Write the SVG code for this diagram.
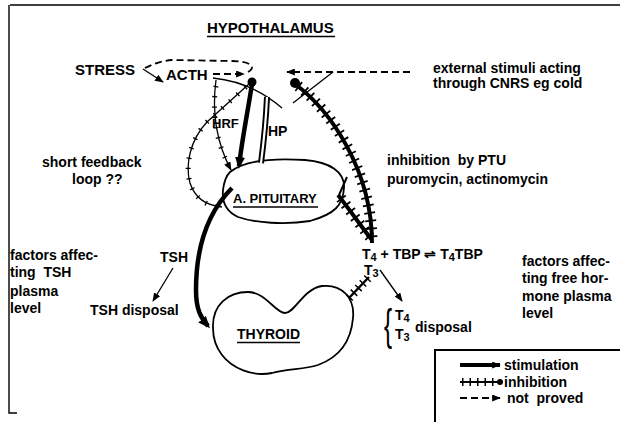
<svg xmlns="http://www.w3.org/2000/svg" width="620" height="422" viewBox="0 0 620 422">
<style>
text{font-family:"Liberation Sans",Arial,sans-serif;font-weight:bold;font-size:14px;fill:#000;white-space:pre}
.cap{font-size:15px}
.sub{font-size:11px}
.ln{fill:none;stroke:#000;stroke-width:1.4}
.thin{fill:none;stroke:#000;stroke-width:1.3}
.thick{fill:none;stroke:#000;stroke-width:4.5}
.dash{fill:none;stroke:#000;stroke-width:1.8;stroke-dasharray:7 4}
.tk{fill:none;stroke:#000;stroke-width:11;stroke-dasharray:1.8 6}
.tks{fill:none;stroke:#000;stroke-width:5;stroke-dasharray:1.3 9}
.outline{fill:#fff;stroke:#000;stroke-width:1.8}
.ul{stroke:#000;stroke-width:1.3}
</style>
<defs>
<marker id="aL" viewBox="0 0 12 10" refX="9" refY="5" markerWidth="12" markerHeight="10" markerUnits="userSpaceOnUse" orient="auto"><path d="M0,0 L12,5 L0,10 z"/></marker>
<marker id="aS" viewBox="0 0 10 8" refX="9" refY="4" markerWidth="9" markerHeight="7" markerUnits="userSpaceOnUse" orient="auto"><path d="M0,0 L10,4 L0,8 z"/></marker>
</defs>

<g id="frame">
<path class="ln" d="M10,5 L620,5 M9,5 L9,413 L17,413"/>
</g>

<g id="hypothalamus">
<text class="cap" x="207" y="33">HYPOTHALAMUS</text>
<line class="ul" x1="207" y1="36.5" x2="335" y2="36.5"/>
<path class="thin" d="M213,78 Q252,82 282,108"/>
<circle cx="252" cy="82" r="4.5"/>
<circle cx="295" cy="83" r="5"/>
</g>

<g id="pituitary">
<path class="outline" d="M230,172 C245,160 275,158 305,160 C330,162 345,172 344,188 C343,205 335,214 310,221 C285,225 255,223 238,217 C225,211 222,200 223,190 C224,182 226,176 230,172 Z"/>
<text x="233" y="203" style="font-size:13px">A. PITUITARY</text>
<line class="ul" x1="233" y1="207" x2="318" y2="207"/>
</g>

<g id="thyroid">
<path class="outline" d="M213,328 C212,305 228,292 248,292 C266,292 275,313 285,313 C295,313 303,289 322,286 C342,284 355,298 353,318 C351,342 340,357 318,365 C302,370 290,368 272,373 C252,377 232,368 222,355 C215,346 213,338 213,328 Z"/>
<text x="237" y="339">THYROID</text>
<line class="ul" x1="237" y1="342.5" x2="300" y2="342.5"/>
</g>

<g id="stress"><text class="cap" x="75" y="75">STRESS</text></g>
<g id="acth"><text class="cap" x="166" y="80">ACTH</text></g>
<g id="hrf"><text x="212" y="128" style="font-size:13px">HRF</text></g>
<g id="hp"><text x="268" y="136">HP</text></g>
<g id="tsh-label"><text x="160" y="262">TSH</text></g>
<g id="tsh-disposal"><text x="90" y="315">TSH disposal</text></g>

<g id="external">
<text x="433" y="73">external stimuli acting</text>
<text x="433" y="88">through CNRS eg cold</text>
</g>
<g id="inhibition-ptu">
<text x="387" y="165">inhibition  by PTU</text>
<text x="387" y="184">puromycin, actinomycin</text>
</g>
<g id="short-feedback">
<text x="42" y="167">short feedback</text>
<text x="72" y="184">loop ??</text>
</g>
<g id="factors-tsh">
<text x="10" y="260">factors affec-</text>
<text x="10" y="277">ting  TSH</text>
<text x="10" y="296">plasma</text>
<text x="10" y="313">level</text>
</g>
<g id="factors-free">
<text x="522" y="266">factors affec-</text>
<text x="522" y="283">ting free hor-</text>
<text x="522" y="301">mone plasma</text>
<text x="522" y="318">level</text>
</g>
<g id="t4tbp">
<text x="362" y="259">T<tspan class="sub" dy="2">4</tspan><tspan dy="-2"> + TBP ⇌ T</tspan><tspan class="sub" dy="2">4</tspan><tspan dy="-2">TBP</tspan></text>
<text x="364" y="275">T<tspan class="sub" dy="2">3</tspan></text>
</g>
<g id="t-disposal">
<text x="0" y="0" style="font-size:44px;font-weight:normal" transform="translate(384,340) scale(0.55,1)">{</text>
<text x="395" y="320">T<tspan class="sub" dy="2">4</tspan></text>
<text x="395" y="339">T<tspan class="sub" dy="2">3</tspan></text>
<text x="415" y="332">disposal</text>
</g>

<g id="connectors">
<path class="dash" d="M248,72 C258,66 248,61 232,61 L172,60 Q158,61 143,69"/>
<path class="thin" d="M143,69 L163,82" marker-end="url(#aS)"/>
<path class="dash" d="M213,74 L244,74" marker-end="url(#aS)"/>
<path class="thin" d="M216,80 C212,110 215,140 231,170" marker-end="url(#aS)"/>
<path class="tks" d="M216,86 C212,110 215,140 229,166"/>
<path class="thin" d="M250,83 L207,122 C190,140 185,165 190,183 C195,198 205,205 222,207"/>
<path class="tks" d="M246,87 L207,122 C190,140 185,165 190,183 C195,198 205,205 218,207"/>
<path class="thick" d="M252,84 C248,110 242,140 239,166" marker-end="url(#aL)"/>
<path fill="none" stroke="#000" stroke-width="6" d="M267,97 C266,120 264,140 261,163"/>
<path fill="none" stroke="#fff" stroke-width="2.2" d="M267,97 C266,120 264,140 261,163"/>
<path class="dash" d="M410,72 L287,72" marker-end="url(#aS)"/>
<path class="thin" d="M333,72 L293,103"/>
<path class="thick" style="stroke-width:4" d="M295,84 C330,110 372,170 372,243"/>
<path class="tk" d="M298,86 C330,110 372,170 372,243"/>
<path class="thick" style="stroke-width:4" d="M372,240 C360,225 350,210 338,195"/>
<path class="tk" d="M370,237 C360,225 350,210 340,197"/>
<path class="thin" style="stroke-width:2" d="M347,177 L339,195"/>
<path class="thick" d="M232,188 C205,215 196,250 196,290 C196,310 201,318 208,326" marker-end="url(#aL)"/>
<path class="thin" d="M173,268 L153,301" marker-end="url(#aS)"/>
<path class="thick" style="stroke-width:2.5" d="M349,298 L369,277"/>
<path class="tks" style="stroke-width:9;stroke-dasharray:1.5 5" d="M349,298 L369,277"/>
<path class="thin" d="M380,270 L402,301" marker-end="url(#aS)"/>
</g>

<g id="legend">
<path class="ln" style="stroke-width:2" d="M435,422 L435,350 L620,350"/>
<path class="thick" style="stroke-width:4" d="M460,365 L500,365" marker-end="url(#aS)"/>
<text x="504" y="370">stimulation</text>
<path class="thick" style="stroke-width:2" d="M460,382 L498,382"/>
<path class="tks" style="stroke-width:8;stroke-dasharray:1.5 6" d="M462,382 L496,382"/>
<circle cx="500" cy="382" r="3"/>
<text x="504" y="387">inhibition</text>
<path class="dash" d="M460,398 L500,398" marker-end="url(#aS)"/>
<text x="507" y="403">not  proved</text>
</g>
</svg>
